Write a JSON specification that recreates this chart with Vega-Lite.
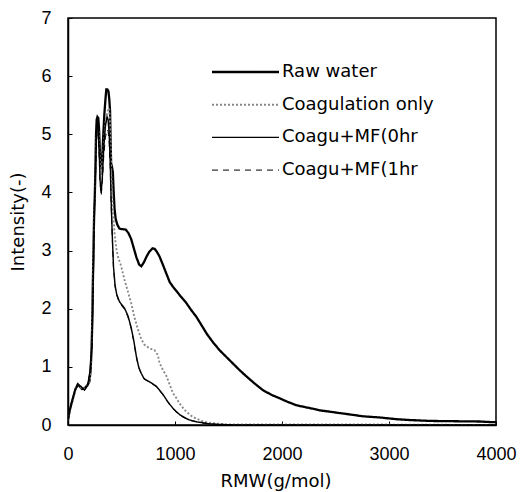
{
  "$schema": "https://vega.github.io/schema/vega-lite/v6.json",
  "width": 428,
  "height": 407,
  "autosize": "none",
  "padding": {"left": 68, "top": 18, "right": 25, "bottom": 67},
  "background": "white",
  "config": {
    "view": {"stroke": "black", "strokeWidth": 1.5},
    "axis": {"grid": false, "domainColor": "black", "domainWidth": 1.5, "tickColor": "black", "tickWidth": 1, "labelFont": "Liberation Sans", "labelFontSize": 18, "labelColor": "black", "labelFlush": false, "titleFont": "DejaVu Sans", "titleFontSize": 18, "titleFontWeight": "normal", "titleColor": "black"},
    "legend": {"orient": "none", "legendX": 168.5, "legendY": 45, "symbolType": "M-6.7,0H6.7", "symbolSize": 100, "labelOffset": 27.5, "labelFont": "DejaVu Sans", "labelFontSize": 18, "labelColor": "black", "rowPadding": 14.7, "padding": 0, "title": null}
  },
  "data": {"values": [
    {"s":"Raw water","x":0,"y":0.10},{"s":"Raw water","x":20,"y":0.28},{"s":"Raw water","x":45,"y":0.45},{"s":"Raw water","x":70,"y":0.62},{"s":"Raw water","x":92,"y":0.70},{"s":"Raw water","x":110,"y":0.66},{"s":"Raw water","x":130,"y":0.62},{"s":"Raw water","x":155,"y":0.63},{"s":"Raw water","x":180,"y":0.68},{"s":"Raw water","x":200,"y":0.75},{"s":"Raw water","x":212,"y":0.95},{"s":"Raw water","x":220,"y":1.3},{"s":"Raw water","x":226,"y":1.7},{"s":"Raw water","x":232,"y":2.4},{"s":"Raw water","x":238,"y":3.0},{"s":"Raw water","x":244,"y":3.6},{"s":"Raw water","x":250,"y":3.9},{"s":"Raw water","x":256,"y":4.4},{"s":"Raw water","x":262,"y":5.0},{"s":"Raw water","x":268,"y":5.25},{"s":"Raw water","x":275,"y":5.3},{"s":"Raw water","x":283,"y":5.28},{"s":"Raw water","x":290,"y":5.1},{"s":"Raw water","x":298,"y":4.7},{"s":"Raw water","x":305,"y":4.45},{"s":"Raw water","x":312,"y":4.4},{"s":"Raw water","x":320,"y":4.6},{"s":"Raw water","x":330,"y":5.0},{"s":"Raw water","x":340,"y":5.35},{"s":"Raw water","x":350,"y":5.6},{"s":"Raw water","x":358,"y":5.77},{"s":"Raw water","x":368,"y":5.77},{"s":"Raw water","x":378,"y":5.74},{"s":"Raw water","x":386,"y":5.6},{"s":"Raw water","x":393,"y":5.4},{"s":"Raw water","x":398,"y":4.9},{"s":"Raw water","x":403,"y":4.5},{"s":"Raw water","x":410,"y":4.45},{"s":"Raw water","x":419,"y":4.35},{"s":"Raw water","x":427,"y":4.0},{"s":"Raw water","x":435,"y":3.72},{"s":"Raw water","x":445,"y":3.55},{"s":"Raw water","x":460,"y":3.45},{"s":"Raw water","x":480,"y":3.38},{"s":"Raw water","x":500,"y":3.37},{"s":"Raw water","x":540,"y":3.36},{"s":"Raw water","x":565,"y":3.3},{"s":"Raw water","x":590,"y":3.2},{"s":"Raw water","x":615,"y":3.04},{"s":"Raw water","x":640,"y":2.88},{"s":"Raw water","x":665,"y":2.76},{"s":"Raw water","x":685,"y":2.73},{"s":"Raw water","x":710,"y":2.8},{"s":"Raw water","x":735,"y":2.9},{"s":"Raw water","x":760,"y":2.98},{"s":"Raw water","x":790,"y":3.04},{"s":"Raw water","x":810,"y":3.03},{"s":"Raw water","x":830,"y":2.98},{"s":"Raw water","x":855,"y":2.9},{"s":"Raw water","x":886,"y":2.76},{"s":"Raw water","x":920,"y":2.6},{"s":"Raw water","x":950,"y":2.46},{"s":"Raw water","x":980,"y":2.38},{"s":"Raw water","x":1011,"y":2.31},{"s":"Raw water","x":1050,"y":2.22},{"s":"Raw water","x":1105,"y":2.1},{"s":"Raw water","x":1150,"y":1.98},{"s":"Raw water","x":1200,"y":1.86},{"s":"Raw water","x":1250,"y":1.71},{"s":"Raw water","x":1300,"y":1.56},{"s":"Raw water","x":1360,"y":1.41},{"s":"Raw water","x":1420,"y":1.28},{"s":"Raw water","x":1480,"y":1.17},{"s":"Raw water","x":1540,"y":1.06},{"s":"Raw water","x":1600,"y":0.95},{"s":"Raw water","x":1665,"y":0.84},{"s":"Raw water","x":1740,"y":0.72},{"s":"Raw water","x":1821,"y":0.6},{"s":"Raw water","x":1900,"y":0.52},{"s":"Raw water","x":1977,"y":0.46},{"s":"Raw water","x":2050,"y":0.4},{"s":"Raw water","x":2133,"y":0.34},{"s":"Raw water","x":2210,"y":0.31},{"s":"Raw water","x":2288,"y":0.28},{"s":"Raw water","x":2360,"y":0.25},{"s":"Raw water","x":2444,"y":0.23},{"s":"Raw water","x":2520,"y":0.21},{"s":"Raw water","x":2600,"y":0.19},{"s":"Raw water","x":2680,"y":0.17},{"s":"Raw water","x":2755,"y":0.15},{"s":"Raw water","x":2830,"y":0.14},{"s":"Raw water","x":2911,"y":0.13},{"s":"Raw water","x":2990,"y":0.115},{"s":"Raw water","x":3067,"y":0.1},{"s":"Raw water","x":3200,"y":0.085},{"s":"Raw water","x":3380,"y":0.07},{"s":"Raw water","x":3600,"y":0.065},{"s":"Raw water","x":3850,"y":0.06},{"s":"Raw water","x":3950,"y":0.05},{"s":"Raw water","x":4000,"y":0.05},

    {"s":"Coagulation only","x":0,"y":0.08},{"s":"Coagulation only","x":25,"y":0.3},{"s":"Coagulation only","x":50,"y":0.48},{"s":"Coagulation only","x":75,"y":0.63},{"s":"Coagulation only","x":95,"y":0.69},{"s":"Coagulation only","x":120,"y":0.64},{"s":"Coagulation only","x":150,"y":0.62},{"s":"Coagulation only","x":180,"y":0.67},{"s":"Coagulation only","x":205,"y":0.8},{"s":"Coagulation only","x":218,"y":1.2},{"s":"Coagulation only","x":228,"y":1.9},{"s":"Coagulation only","x":236,"y":2.8},{"s":"Coagulation only","x":245,"y":3.6},{"s":"Coagulation only","x":255,"y":4.2},{"s":"Coagulation only","x":265,"y":4.9},{"s":"Coagulation only","x":275,"y":5.12},{"s":"Coagulation only","x":285,"y":5.05},{"s":"Coagulation only","x":296,"y":4.6},{"s":"Coagulation only","x":310,"y":4.3},{"s":"Coagulation only","x":330,"y":4.7},{"s":"Coagulation only","x":350,"y":5.2},{"s":"Coagulation only","x":370,"y":5.4},{"s":"Coagulation only","x":385,"y":5.45},{"s":"Coagulation only","x":395,"y":5.1},{"s":"Coagulation only","x":405,"y":4.3},{"s":"Coagulation only","x":420,"y":3.7},{"s":"Coagulation only","x":435,"y":3.3},{"s":"Coagulation only","x":450,"y":3.05},{"s":"Coagulation only","x":466,"y":2.9},{"s":"Coagulation only","x":497,"y":2.73},{"s":"Coagulation only","x":528,"y":2.5},{"s":"Coagulation only","x":559,"y":2.3},{"s":"Coagulation only","x":590,"y":2.1},{"s":"Coagulation only","x":621,"y":1.85},{"s":"Coagulation only","x":653,"y":1.65},{"s":"Coagulation only","x":684,"y":1.48},{"s":"Coagulation only","x":715,"y":1.38},{"s":"Coagulation only","x":760,"y":1.32},{"s":"Coagulation only","x":808,"y":1.29},{"s":"Coagulation only","x":840,"y":1.2},{"s":"Coagulation only","x":855,"y":1.07},{"s":"Coagulation only","x":886,"y":0.95},{"s":"Coagulation only","x":918,"y":0.85},{"s":"Coagulation only","x":949,"y":0.7},{"s":"Coagulation only","x":980,"y":0.55},{"s":"Coagulation only","x":1011,"y":0.47},{"s":"Coagulation only","x":1042,"y":0.37},{"s":"Coagulation only","x":1073,"y":0.3},{"s":"Coagulation only","x":1105,"y":0.23},{"s":"Coagulation only","x":1151,"y":0.16},{"s":"Coagulation only","x":1198,"y":0.11},{"s":"Coagulation only","x":1250,"y":0.07},{"s":"Coagulation only","x":1291,"y":0.05},{"s":"Coagulation only","x":1350,"y":0.03},{"s":"Coagulation only","x":1417,"y":0.02},{"s":"Coagulation only","x":1500,"y":0.01},{"s":"Coagulation only","x":2000,"y":0.01},{"s":"Coagulation only","x":2700,"y":0.01},{"s":"Coagulation only","x":4000,"y":0.0},

    {"s":"Coagu+MF(0hr","x":0,"y":0.09},{"s":"Coagu+MF(0hr","x":30,"y":0.37},{"s":"Coagu+MF(0hr","x":61,"y":0.57},{"s":"Coagu+MF(0hr","x":92,"y":0.7},{"s":"Coagu+MF(0hr","x":123,"y":0.66},{"s":"Coagu+MF(0hr","x":154,"y":0.6},{"s":"Coagu+MF(0hr","x":185,"y":0.69},{"s":"Coagu+MF(0hr","x":207,"y":0.95},{"s":"Coagu+MF(0hr","x":223,"y":1.35},{"s":"Coagu+MF(0hr","x":232,"y":2.1},{"s":"Coagu+MF(0hr","x":240,"y":3.0},{"s":"Coagu+MF(0hr","x":248,"y":3.8},{"s":"Coagu+MF(0hr","x":256,"y":4.3},{"s":"Coagu+MF(0hr","x":264,"y":4.9},{"s":"Coagu+MF(0hr","x":272,"y":5.2},{"s":"Coagu+MF(0hr","x":280,"y":5.22},{"s":"Coagu+MF(0hr","x":290,"y":4.8},{"s":"Coagu+MF(0hr","x":300,"y":4.2},{"s":"Coagu+MF(0hr","x":310,"y":3.99},{"s":"Coagu+MF(0hr","x":322,"y":4.3},{"s":"Coagu+MF(0hr","x":335,"y":4.8},{"s":"Coagu+MF(0hr","x":350,"y":5.15},{"s":"Coagu+MF(0hr","x":365,"y":5.3},{"s":"Coagu+MF(0hr","x":375,"y":5.25},{"s":"Coagu+MF(0hr","x":385,"y":5.0},{"s":"Coagu+MF(0hr","x":395,"y":4.5},{"s":"Coagu+MF(0hr","x":403,"y":3.87},{"s":"Coagu+MF(0hr","x":413,"y":3.3},{"s":"Coagu+MF(0hr","x":425,"y":2.73},{"s":"Coagu+MF(0hr","x":440,"y":2.4},{"s":"Coagu+MF(0hr","x":455,"y":2.25},{"s":"Coagu+MF(0hr","x":481,"y":2.12},{"s":"Coagu+MF(0hr","x":528,"y":2.01},{"s":"Coagu+MF(0hr","x":560,"y":1.88},{"s":"Coagu+MF(0hr","x":590,"y":1.68},{"s":"Coagu+MF(0hr","x":615,"y":1.45},{"s":"Coagu+MF(0hr","x":637,"y":1.2},{"s":"Coagu+MF(0hr","x":660,"y":1.0},{"s":"Coagu+MF(0hr","x":684,"y":0.89},{"s":"Coagu+MF(0hr","x":710,"y":0.8},{"s":"Coagu+MF(0hr","x":746,"y":0.76},{"s":"Coagu+MF(0hr","x":790,"y":0.71},{"s":"Coagu+MF(0hr","x":824,"y":0.67},{"s":"Coagu+MF(0hr","x":855,"y":0.6},{"s":"Coagu+MF(0hr","x":886,"y":0.53},{"s":"Coagu+MF(0hr","x":918,"y":0.44},{"s":"Coagu+MF(0hr","x":949,"y":0.36},{"s":"Coagu+MF(0hr","x":980,"y":0.29},{"s":"Coagu+MF(0hr","x":1011,"y":0.23},{"s":"Coagu+MF(0hr","x":1050,"y":0.17},{"s":"Coagu+MF(0hr","x":1089,"y":0.13},{"s":"Coagu+MF(0hr","x":1130,"y":0.09},{"s":"Coagu+MF(0hr","x":1166,"y":0.07},{"s":"Coagu+MF(0hr","x":1215,"y":0.05},{"s":"Coagu+MF(0hr","x":1260,"y":0.04},{"s":"Coagu+MF(0hr","x":1320,"y":0.02},{"s":"Coagu+MF(0hr","x":1400,"y":0.01},{"s":"Coagu+MF(0hr","x":1600,"y":0.0},{"s":"Coagu+MF(0hr","x":4000,"y":0.0},

    {"s":"Coagu+MF(1hr","x":0,"y":0.08},{"s":"Coagu+MF(1hr","x":30,"y":0.35},{"s":"Coagu+MF(1hr","x":61,"y":0.56},{"s":"Coagu+MF(1hr","x":92,"y":0.69},{"s":"Coagu+MF(1hr","x":123,"y":0.65},{"s":"Coagu+MF(1hr","x":154,"y":0.6},{"s":"Coagu+MF(1hr","x":185,"y":0.68},{"s":"Coagu+MF(1hr","x":207,"y":0.93},{"s":"Coagu+MF(1hr","x":223,"y":1.3},{"s":"Coagu+MF(1hr","x":232,"y":2.0},{"s":"Coagu+MF(1hr","x":240,"y":2.9},{"s":"Coagu+MF(1hr","x":248,"y":3.7},{"s":"Coagu+MF(1hr","x":256,"y":4.2},{"s":"Coagu+MF(1hr","x":264,"y":4.7},{"s":"Coagu+MF(1hr","x":272,"y":5.05},{"s":"Coagu+MF(1hr","x":280,"y":5.08},{"s":"Coagu+MF(1hr","x":290,"y":4.7},{"s":"Coagu+MF(1hr","x":300,"y":4.15},{"s":"Coagu+MF(1hr","x":310,"y":3.95},{"s":"Coagu+MF(1hr","x":322,"y":4.2},{"s":"Coagu+MF(1hr","x":335,"y":4.65},{"s":"Coagu+MF(1hr","x":350,"y":4.95},{"s":"Coagu+MF(1hr","x":365,"y":5.08},{"s":"Coagu+MF(1hr","x":375,"y":5.05},{"s":"Coagu+MF(1hr","x":385,"y":4.85},{"s":"Coagu+MF(1hr","x":395,"y":4.4},{"s":"Coagu+MF(1hr","x":403,"y":3.8},{"s":"Coagu+MF(1hr","x":413,"y":3.25},{"s":"Coagu+MF(1hr","x":425,"y":2.7},{"s":"Coagu+MF(1hr","x":440,"y":2.38},{"s":"Coagu+MF(1hr","x":455,"y":2.23},{"s":"Coagu+MF(1hr","x":481,"y":2.1},{"s":"Coagu+MF(1hr","x":528,"y":1.99},{"s":"Coagu+MF(1hr","x":560,"y":1.86},{"s":"Coagu+MF(1hr","x":590,"y":1.66},{"s":"Coagu+MF(1hr","x":615,"y":1.43},{"s":"Coagu+MF(1hr","x":637,"y":1.18},{"s":"Coagu+MF(1hr","x":660,"y":0.99},{"s":"Coagu+MF(1hr","x":684,"y":0.88},{"s":"Coagu+MF(1hr","x":710,"y":0.79},{"s":"Coagu+MF(1hr","x":746,"y":0.75},{"s":"Coagu+MF(1hr","x":790,"y":0.7},{"s":"Coagu+MF(1hr","x":824,"y":0.66},{"s":"Coagu+MF(1hr","x":855,"y":0.59},{"s":"Coagu+MF(1hr","x":886,"y":0.52},{"s":"Coagu+MF(1hr","x":918,"y":0.43},{"s":"Coagu+MF(1hr","x":949,"y":0.35},{"s":"Coagu+MF(1hr","x":980,"y":0.28},{"s":"Coagu+MF(1hr","x":1011,"y":0.22},{"s":"Coagu+MF(1hr","x":1050,"y":0.16},{"s":"Coagu+MF(1hr","x":1089,"y":0.12},{"s":"Coagu+MF(1hr","x":1130,"y":0.09},{"s":"Coagu+MF(1hr","x":1166,"y":0.07},{"s":"Coagu+MF(1hr","x":1215,"y":0.05},{"s":"Coagu+MF(1hr","x":1260,"y":0.03},{"s":"Coagu+MF(1hr","x":1320,"y":0.02},{"s":"Coagu+MF(1hr","x":1400,"y":0.01},{"s":"Coagu+MF(1hr","x":1600,"y":0.0},{"s":"Coagu+MF(1hr","x":4000,"y":0.0}
  ]},
  "mark": {"type": "line", "clip": true},
  "encoding": {
    "x": {"field": "x", "type": "quantitative", "scale": {"domain": [0, 4000], "nice": false}, "axis": {"title": "RMW(g/mol)", "format": "d", "values": [0, 1000, 2000, 3000, 4000], "tickSize": -4, "labelPadding": 24, "titlePadding": 9, "titleX": 207.5}},
    "y": {"field": "y", "type": "quantitative", "scale": {"domain": [0, 7], "nice": false}, "axis": {"title": "Intensity(-)", "values": [0, 1, 2, 3, 4, 5, 6, 7], "tickSize": -4, "labelPadding": 21, "titlePadding": 13}},
    "color": {"field": "s", "type": "nominal", "scale": {"domain": ["Raw water", "Coagulation only", "Coagu+MF(0hr", "Coagu+MF(1hr"], "range": ["black", "#888888", "black", "black"]}, "title": null},
    "strokeDash": {"field": "s", "type": "nominal", "scale": {"domain": ["Raw water", "Coagulation only", "Coagu+MF(0hr", "Coagu+MF(1hr"], "range": [[1, 0], [2, 2], [1, 0], [6, 5]]}, "title": null},
    "strokeWidth": {"field": "s", "type": "nominal", "scale": {"domain": ["Raw water", "Coagulation only", "Coagu+MF(0hr", "Coagu+MF(1hr"], "range": [2.3, 1, 2.2, 1.3]}, "title": null}
  }
}
